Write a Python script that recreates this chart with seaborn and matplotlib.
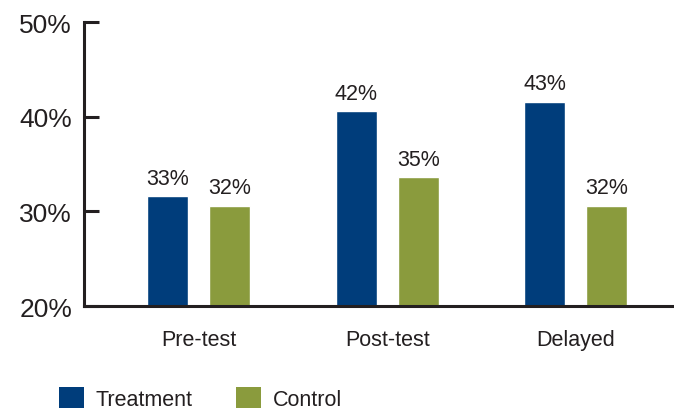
import matplotlib
matplotlib.use("Agg")
import matplotlib.pyplot as plt
import pandas as pd
import seaborn as sns
from matplotlib.patches import Patch

# values (bar heights) and the printed labels
phases = ["Pre-test", "Post-test", "Delayed"]
groups = ["Treatment", "Control"]
treatment = [31.6, 40.6, 41.6]
control = [30.6, 33.6, 30.6]
treatment_labels = ["33%", "42%", "43%"]
control_labels = ["32%", "35%", "32%"]
y_ticks = [20, 30, 40, 50]
y_tick_labels = ["20%", "30%", "40%", "50%"]

NAVY = "#003d7b"
OLIVE = "#8a9b3d"
INK = "#231f20"

sns.set_theme(style="white")
plt.rcParams["font.family"] = ["Liberation Sans", "DejaVu Sans"]

df = pd.DataFrame({
    "phase": phases * 2,
    "group": [groups[0]] * 3 + [groups[1]] * 3,
    "value": treatment + control,
})

fig = plt.figure(figsize=(6.74, 4.10), dpi=100)
ax = fig.add_axes([0.1246, 0.2512, 0.8754, 0.692])

sns.barplot(data=df, x="phase", y="value", hue="group", order=phases,
            hue_order=groups, palette=[NAVY, OLIVE], width=0.658, gap=0.34,
            saturation=1, legend=False, ax=ax)

for cont, labs in zip(ax.containers, [treatment_labels, control_labels]):
    ax.bar_label(cont, labels=labs, padding=5.5, fontsize=15.5, color=INK)

ax.set_ylim(20, 50)
ax.set_xlim(-0.607, 2.52)
ax.set_yticks(y_ticks)
ax.set_yticklabels(y_tick_labels)
ax.set_xlabel("")
ax.set_ylabel("")

for side in ["top", "right"]:
    ax.spines[side].set_visible(False)
for side in ["left", "bottom"]:
    ax.spines[side].set_linewidth(2.2)
    ax.spines[side].set_color(INK)

ax.tick_params(axis="y", direction="in", length=11, width=2.2, color=INK,
               pad=8.6, labelsize=19, labelcolor=INK, left=True)
ax.tick_params(axis="x", length=0, pad=16.5, labelsize=15.5, labelcolor=INK)

handles = [Patch(facecolor=NAVY, edgecolor="none"),
           Patch(facecolor=OLIVE, edgecolor="none")]
fig.legend(handles, groups, loc="upper left", bbox_to_anchor=(0.0875, 0.0537),
           ncol=2, frameon=False, fontsize=15.5, handlelength=1.15,
           handleheight=1.15, handletextpad=0.56, columnspacing=2.0,
           borderaxespad=0, borderpad=0, labelcolor=INK)

fig.savefig("out.png", dpi=100)
